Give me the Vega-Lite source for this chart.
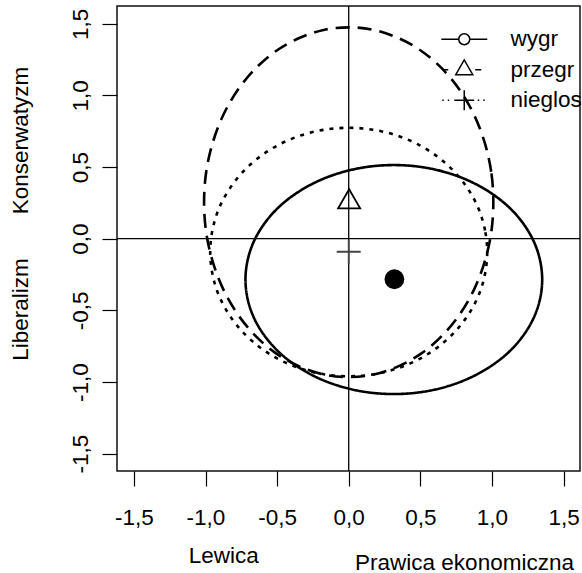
{
  "$schema": "https://vega.github.io/schema/vega-lite/v6.json",
  "width": 463,
  "height": 465,
  "autosize": "none",
  "padding": {"left": 117, "top": 6, "right": 2, "bottom": 102},
  "background": "white",
  "config": {"font": "Liberation Sans", "view": {"stroke": "#111", "strokeWidth": 1.5}},
  "datasets": {
    "elipsy": [
      {"grupa": "wygr", "i": 0, "x": 1.351, "y": -0.285},
      {"grupa": "wygr", "i": 1, "x": 1.335, "y": -0.146},
      {"grupa": "wygr", "i": 2, "x": 1.289, "y": -0.012},
      {"grupa": "wygr", "i": 3, "x": 1.212, "y": 0.115},
      {"grupa": "wygr", "i": 4, "x": 1.109, "y": 0.229},
      {"grupa": "wygr", "i": 5, "x": 0.981, "y": 0.327},
      {"grupa": "wygr", "i": 6, "x": 0.833, "y": 0.407},
      {"grupa": "wygr", "i": 7, "x": 0.669, "y": 0.466},
      {"grupa": "wygr", "i": 8, "x": 0.495, "y": 0.502},
      {"grupa": "wygr", "i": 9, "x": 0.315, "y": 0.514},
      {"grupa": "wygr", "i": 10, "x": 0.135, "y": 0.502},
      {"grupa": "wygr", "i": 11, "x": -0.039, "y": 0.466},
      {"grupa": "wygr", "i": 12, "x": -0.203, "y": 0.407},
      {"grupa": "wygr", "i": 13, "x": -0.351, "y": 0.327},
      {"grupa": "wygr", "i": 14, "x": -0.479, "y": 0.229},
      {"grupa": "wygr", "i": 15, "x": -0.582, "y": 0.115},
      {"grupa": "wygr", "i": 16, "x": -0.659, "y": -0.012},
      {"grupa": "wygr", "i": 17, "x": -0.705, "y": -0.146},
      {"grupa": "wygr", "i": 18, "x": -0.721, "y": -0.285},
      {"grupa": "wygr", "i": 19, "x": -0.705, "y": -0.424},
      {"grupa": "wygr", "i": 20, "x": -0.659, "y": -0.558},
      {"grupa": "wygr", "i": 21, "x": -0.582, "y": -0.685},
      {"grupa": "wygr", "i": 22, "x": -0.479, "y": -0.799},
      {"grupa": "wygr", "i": 23, "x": -0.351, "y": -0.897},
      {"grupa": "wygr", "i": 24, "x": -0.203, "y": -0.977},
      {"grupa": "wygr", "i": 25, "x": -0.039, "y": -1.036},
      {"grupa": "wygr", "i": 26, "x": 0.135, "y": -1.072},
      {"grupa": "wygr", "i": 27, "x": 0.315, "y": -1.084},
      {"grupa": "wygr", "i": 28, "x": 0.495, "y": -1.072},
      {"grupa": "wygr", "i": 29, "x": 0.669, "y": -1.036},
      {"grupa": "wygr", "i": 30, "x": 0.833, "y": -0.977},
      {"grupa": "wygr", "i": 31, "x": 0.981, "y": -0.897},
      {"grupa": "wygr", "i": 32, "x": 1.109, "y": -0.799},
      {"grupa": "wygr", "i": 33, "x": 1.212, "y": -0.685},
      {"grupa": "wygr", "i": 34, "x": 1.289, "y": -0.558},
      {"grupa": "wygr", "i": 35, "x": 1.335, "y": -0.424},
      {"grupa": "przegr", "i": 0, "x": 1.010, "y": 0.255},
      {"grupa": "przegr", "i": 1, "x": 0.995, "y": 0.467},
      {"grupa": "przegr", "i": 2, "x": 0.949, "y": 0.672},
      {"grupa": "przegr", "i": 3, "x": 0.875, "y": 0.865},
      {"grupa": "przegr", "i": 4, "x": 0.774, "y": 1.039},
      {"grupa": "przegr", "i": 5, "x": 0.649, "y": 1.190},
      {"grupa": "przegr", "i": 6, "x": 0.505, "y": 1.312},
      {"grupa": "przegr", "i": 7, "x": 0.345, "y": 1.401},
      {"grupa": "przegr", "i": 8, "x": 0.175, "y": 1.457},
      {"grupa": "przegr", "i": 9, "x": 0.0, "y": 1.475},
      {"grupa": "przegr", "i": 10, "x": -0.175, "y": 1.457},
      {"grupa": "przegr", "i": 11, "x": -0.345, "y": 1.401},
      {"grupa": "przegr", "i": 12, "x": -0.505, "y": 1.312},
      {"grupa": "przegr", "i": 13, "x": -0.649, "y": 1.190},
      {"grupa": "przegr", "i": 14, "x": -0.774, "y": 1.039},
      {"grupa": "przegr", "i": 15, "x": -0.875, "y": 0.865},
      {"grupa": "przegr", "i": 16, "x": -0.949, "y": 0.672},
      {"grupa": "przegr", "i": 17, "x": -0.995, "y": 0.467},
      {"grupa": "przegr", "i": 18, "x": -1.010, "y": 0.255},
      {"grupa": "przegr", "i": 19, "x": -0.995, "y": 0.043},
      {"grupa": "przegr", "i": 20, "x": -0.949, "y": -0.162},
      {"grupa": "przegr", "i": 21, "x": -0.875, "y": -0.355},
      {"grupa": "przegr", "i": 22, "x": -0.774, "y": -0.529},
      {"grupa": "przegr", "i": 23, "x": -0.649, "y": -0.680},
      {"grupa": "przegr", "i": 24, "x": -0.505, "y": -0.802},
      {"grupa": "przegr", "i": 25, "x": -0.345, "y": -0.891},
      {"grupa": "przegr", "i": 26, "x": -0.175, "y": -0.947},
      {"grupa": "przegr", "i": 27, "x": 0.0, "y": -0.965},
      {"grupa": "przegr", "i": 28, "x": 0.175, "y": -0.947},
      {"grupa": "przegr", "i": 29, "x": 0.345, "y": -0.891},
      {"grupa": "przegr", "i": 30, "x": 0.505, "y": -0.802},
      {"grupa": "przegr", "i": 31, "x": 0.649, "y": -0.680},
      {"grupa": "przegr", "i": 32, "x": 0.774, "y": -0.529},
      {"grupa": "przegr", "i": 33, "x": 0.875, "y": -0.355},
      {"grupa": "przegr", "i": 34, "x": 0.949, "y": -0.162},
      {"grupa": "przegr", "i": 35, "x": 0.995, "y": 0.043},
      {"grupa": "nieglos", "i": 0, "x": 0.967, "y": -0.093},
      {"grupa": "nieglos", "i": 1, "x": 0.952, "y": 0.058},
      {"grupa": "nieglos", "i": 2, "x": 0.909, "y": 0.204},
      {"grupa": "nieglos", "i": 3, "x": 0.837, "y": 0.341},
      {"grupa": "nieglos", "i": 4, "x": 0.741, "y": 0.464},
      {"grupa": "nieglos", "i": 5, "x": 0.622, "y": 0.571},
      {"grupa": "nieglos", "i": 6, "x": 0.484, "y": 0.658},
      {"grupa": "nieglos", "i": 7, "x": 0.331, "y": 0.722},
      {"grupa": "nieglos", "i": 8, "x": 0.168, "y": 0.761},
      {"grupa": "nieglos", "i": 9, "x": 0.0, "y": 0.774},
      {"grupa": "nieglos", "i": 10, "x": -0.168, "y": 0.761},
      {"grupa": "nieglos", "i": 11, "x": -0.331, "y": 0.722},
      {"grupa": "nieglos", "i": 12, "x": -0.484, "y": 0.658},
      {"grupa": "nieglos", "i": 13, "x": -0.622, "y": 0.571},
      {"grupa": "nieglos", "i": 14, "x": -0.741, "y": 0.464},
      {"grupa": "nieglos", "i": 15, "x": -0.837, "y": 0.341},
      {"grupa": "nieglos", "i": 16, "x": -0.909, "y": 0.204},
      {"grupa": "nieglos", "i": 17, "x": -0.952, "y": 0.058},
      {"grupa": "nieglos", "i": 18, "x": -0.967, "y": -0.093},
      {"grupa": "nieglos", "i": 19, "x": -0.952, "y": -0.244},
      {"grupa": "nieglos", "i": 20, "x": -0.909, "y": -0.390},
      {"grupa": "nieglos", "i": 21, "x": -0.837, "y": -0.527},
      {"grupa": "nieglos", "i": 22, "x": -0.741, "y": -0.650},
      {"grupa": "nieglos", "i": 23, "x": -0.622, "y": -0.757},
      {"grupa": "nieglos", "i": 24, "x": -0.484, "y": -0.844},
      {"grupa": "nieglos", "i": 25, "x": -0.331, "y": -0.908},
      {"grupa": "nieglos", "i": 26, "x": -0.168, "y": -0.947},
      {"grupa": "nieglos", "i": 27, "x": 0.0, "y": -0.960},
      {"grupa": "nieglos", "i": 28, "x": 0.168, "y": -0.947},
      {"grupa": "nieglos", "i": 29, "x": 0.331, "y": -0.908},
      {"grupa": "nieglos", "i": 30, "x": 0.484, "y": -0.844},
      {"grupa": "nieglos", "i": 31, "x": 0.622, "y": -0.757},
      {"grupa": "nieglos", "i": 32, "x": 0.741, "y": -0.650},
      {"grupa": "nieglos", "i": 33, "x": 0.837, "y": -0.527},
      {"grupa": "nieglos", "i": 34, "x": 0.909, "y": -0.390},
      {"grupa": "nieglos", "i": 35, "x": 0.952, "y": -0.244}
    ],
    "punkty": [
      {"grupa": "wygr", "x": 0.319, "y": -0.283},
      {"grupa": "przegr", "x": 0.003, "y": 0.256},
      {"grupa": "nieglos", "x": 0.0, "y": -0.091}
    ]
  },
  "layer": [
    {
      "data": {"name": "elipsy"},
      "mark": {"type": "line", "interpolate": "cardinal-closed", "strokeWidth": 2.6, "color": "black", "clip": true},
      "encoding": {
        "x": {
          "field": "x", "type": "quantitative",
          "scale": {"domain": [-1.618, 1.615], "nice": false, "zero": false},
          "axis": {
            "orient": "bottom", "values": [-1.5, -1, -0.5, 0, 0.5, 1, 1.5],
            "labelExpr": "(datum.value < 0 ? '-' : '') + replace(format(abs(datum.value), '.1f'), '.', ',')",
            "labelFont": "Liberation Sans", "labelFontSize": 22.5, "labelColor": "black",
            "labelBaseline": "alphabetic", "labelAlign": "center", "labelPadding": 38,
            "labelFlush": false, "labelOverlap": false,
            "tickSize": 15, "tickColor": "black", "tickWidth": 1.2,
            "domain": false, "grid": false,
            "title": "Lewica", "titleFont": "Liberation Sans", "titleFontSize": 22.5, "titleFontWeight": "normal", "titleColor": "black",
            "titleX": 106.3, "titleY": 91, "titleBaseline": "alphabetic", "titleAlign": "center", "titleAngle": 0
          }
        },
        "y": {
          "field": "y", "type": "quantitative",
          "scale": {"domain": [-1.621, 1.624], "nice": false, "zero": false},
          "axis": {
            "orient": "left", "values": [-1.5, -1, -0.5, 0, 0.5, 1, 1.5],
            "labelExpr": "(datum.value < 0 ? '-' : '') + replace(format(abs(datum.value), '.1f'), '.', ',')",
            "labelFont": "Liberation Sans", "labelFontSize": 22.5, "labelColor": "black",
            "labelAngle": -90, "labelAlign": "center", "labelBaseline": "alphabetic", "labelPadding": 15,
            "labelFlush": false, "labelOverlap": false,
            "tickSize": 15, "tickColor": "black", "tickWidth": 1.2,
            "domain": false, "grid": false,
            "title": "Konserwatyzm", "titleFont": "Liberation Sans", "titleFontSize": 22.5, "titleFontWeight": "normal", "titleColor": "black",
            "titleAngle": -90, "titleX": -90, "titleY": 134, "titleBaseline": "alphabetic", "titleAlign": "center"
          }
        },
        "detail": {"field": "grupa", "type": "nominal"},
        "strokeDash": {
          "condition": [
            {"test": "datum.grupa == 'przegr'", "value": [14, 8]},
            {"test": "datum.grupa == 'nieglos'", "value": [4, 6]}
          ],
          "value": [1, 0]
        },
        "order": {"field": "i", "type": "quantitative"}
      }
    },
    {
      "data": {"values": [{}]},
      "mark": {"type": "rule", "color": "black", "strokeWidth": 1.3},
      "encoding": {
        "y": {"datum": 0, "type": "quantitative", "scale": {"domain": [-1.621, 1.624], "nice": false, "zero": false}, "axis": null}
      }
    },
    {
      "data": {"values": [{}]},
      "mark": {"type": "rule", "color": "black", "strokeWidth": 1.3},
      "encoding": {
        "x": {"datum": 0, "type": "quantitative", "scale": {"domain": [-1.618, 1.615], "nice": false, "zero": false}, "axis": null}
      }
    },
    {
      "data": {"name": "punkty"},
      "mark": {"type": "point", "size": 576, "strokeWidth": 1.8, "opacity": 1},
      "encoding": {
        "x": {
          "field": "x", "type": "quantitative",
          "scale": {"domain": [-1.618, 1.615], "nice": false, "zero": false},
          "axis": {
            "orient": "bottom", "labels": false, "ticks": false, "domain": false, "grid": false,
            "title": "Prawica ekonomiczna", "titleFont": "Liberation Sans", "titleFontSize": 22.5, "titleFontWeight": "normal", "titleColor": "black",
            "titleX": 347, "titleY": 98, "titleBaseline": "alphabetic", "titleAlign": "center", "titleAngle": 0
          }
        },
        "y": {
          "field": "y", "type": "quantitative",
          "scale": {"domain": [-1.621, 1.624], "nice": false, "zero": false},
          "axis": {
            "orient": "left", "labels": false, "ticks": false, "domain": false, "grid": false,
            "title": "Liberalizm", "titleFont": "Liberation Sans", "titleFontSize": 22.5, "titleFontWeight": "normal", "titleColor": "black",
            "titleAngle": -90, "titleX": -90, "titleY": 303, "titleBaseline": "alphabetic", "titleAlign": "center"
          }
        },
        "shape": {
          "condition": [
            {"test": "datum.grupa == 'przegr'", "value": "M0,-1.059L-0.917,0.529L0.917,0.529Z"},
            {"test": "datum.grupa == 'nieglos'", "value": "M-1,0H1M0,-1V1"}
          ],
          "value": "M-0.75,0A0.75,0.75 0 1,0 0.75,0A0.75,0.75 0 1,0 -0.75,0Z"
        },
        "fill": {"condition": {"test": "datum.grupa == 'wygr'", "value": "black"}, "value": "transparent"},
        "stroke": {"condition": {"test": "datum.grupa == 'nieglos'", "value": "#444"}, "value": "black"}
      }
    },
    {
      "data": {"name": "punkty"},
      "mark": {"type": "point", "size": 400, "opacity": 0},
      "encoding": {
        "x": {"field": "x", "type": "quantitative", "scale": {"domain": [-1.618, 1.615], "nice": false, "zero": false}, "axis": null},
        "y": {"field": "y", "type": "quantitative", "scale": {"domain": [-1.621, 1.624], "nice": false, "zero": false}, "axis": null},
        "shape": {
          "field": "grupa", "type": "nominal",
          "scale": {
            "domain": ["wygr", "przegr", "nieglos"],
            "range": [
              "M-2.3,0H-0.55M0.55,0H2.3M-0.55,0A0.55,0.55 0 1,0 0.55,0A0.55,0.55 0 1,0 -0.55,0",
              "M-2.2,0H-1.6M1.1,0H1.7M0,-0.98L-0.85,0.49L0.85,0.49Z",
              "M-2.2,0H-2.05M-1.65,0H-1.5M1.35,0H1.5M1.9,0H2.05M-1,0H1M0,-1V1"
            ]
          },
          "legend": {
            "title": null, "orient": "none", "legendX": 336, "legendY": 22,
            "symbolSize": 400, "padding": 0, "rowPadding": 5.5, "labelOffset": 35,
            "labelFont": "Liberation Sans", "labelFontSize": 22.5, "labelColor": "black", "labelLimit": 300,
            "symbolStrokeColor": "black", "symbolFillColor": "transparent", "symbolOpacity": 1, "symbolStrokeWidth": 1.5
          }
        }
      }
    }
  ],
  "resolve": {"axis": {"x": "independent", "y": "independent"}}
}
